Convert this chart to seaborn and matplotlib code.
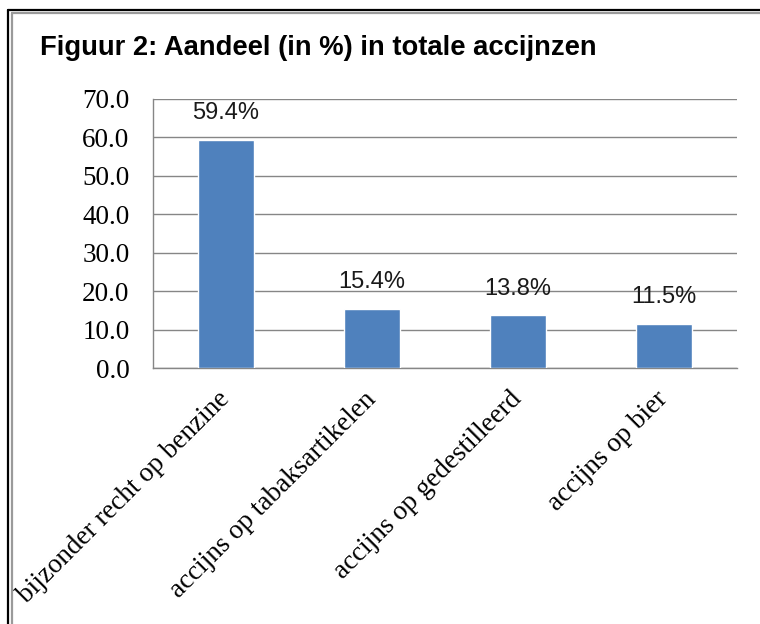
import matplotlib
matplotlib.use("Agg")
import matplotlib.pyplot as plt
from matplotlib.lines import Line2D
from matplotlib.ticker import FormatStrFormatter, FixedLocator
import seaborn as sns
import pandas as pd

categories = ["bijzonder recht op benzine", "accijns op tabaksartikelen",
              "accijns op gedestilleerd", "accijns op bier"]
values = [59.4, 15.4, 13.8, 11.5]
title = "Figuur 2: Aandeel (in %) in totale accijnzen"

df = pd.DataFrame({"cat": categories, "val": values})

sns.set_style("white")
plt.rcParams["text.color"] = "black"
fig = plt.figure(figsize=(7.6, 6.24), dpi=100)
W, H = 760, 624
ax = fig.add_axes([153 / W, 1 - 368 / H, (737 - 153) / W, (368 - 99) / H])

sns.barplot(data=df, x="cat", y="val", color="#4F81BD", width=0.39,
            saturation=1, ax=ax, zorder=3)

grid_c = "#868686"
ax.set_ylim(0, 70)
ax.set_xlim(-0.5, len(categories) - 0.5)
ax.set_yticks(range(0, 71, 10))
ax.yaxis.set_major_formatter(FormatStrFormatter("%.1f"))
ax.yaxis.grid(True, color=grid_c, linewidth=1)
ax.set_axisbelow(True)
for s in ["top", "right"]:
    ax.spines[s].set_visible(False)
ax.spines["left"].set_color(grid_c)
ax.spines["bottom"].set_color(grid_c)
ax.spines["left"].set_linewidth(1)
ax.spines["bottom"].set_linewidth(1)
ax.set_xlabel("")
ax.set_ylabel("")

ax.tick_params(axis="y", length=6, width=1, color=grid_c, pad=11,
               labelsize=19.5, labelcolor="black")
for lab in ax.get_yticklabels():
    lab.set_fontfamily("Liberation Serif")

# boundary ticks between categories
ax.xaxis.set_minor_locator(FixedLocator([i - 0.5 for i in range(len(categories) + 1)]))
ax.tick_params(axis="x", which="minor", length=6, width=1, color=grid_c)
ax.tick_params(axis="x", which="major", length=0, pad=20, labelcolor="black")
ax.set_xticks(range(len(categories)))
ax.set_xticklabels(categories, rotation=45, ha="right", va="center",
                   rotation_mode="anchor", fontsize=19.5, family="Liberation Serif")

for i, v in enumerate(values):
    ax.annotate(f"{v}%", (i, v), xytext=(0, 19), textcoords="offset points",
                ha="center", va="center", fontsize=17, family="Liberation Sans",
                color="#1a1a1a")

fig.text(40 / W, 1 - 48 / H, title, ha="left", va="center", fontsize=19.7,
         fontweight="bold", family="Liberation Sans", color="black")

# chart frame
fig.add_artist(Line2D([8 / W, 8 / W], [0, 1 - 10 / H], color="black", lw=1.6,
                      transform=fig.transFigure))
fig.add_artist(Line2D([8 / W, 1], [1 - 10 / H, 1 - 10 / H], color="black", lw=1.6,
                      transform=fig.transFigure))
fig.add_artist(Line2D([11.5 / W, 11.5 / W], [0, 1 - 13 / H], color="#9a9a9a", lw=1.6,
                      transform=fig.transFigure))
fig.add_artist(Line2D([11.5 / W, 1], [1 - 13 / H, 1 - 13 / H], color="#9a9a9a", lw=1.6,
                      transform=fig.transFigure))

fig.savefig("out.png", dpi=100)
